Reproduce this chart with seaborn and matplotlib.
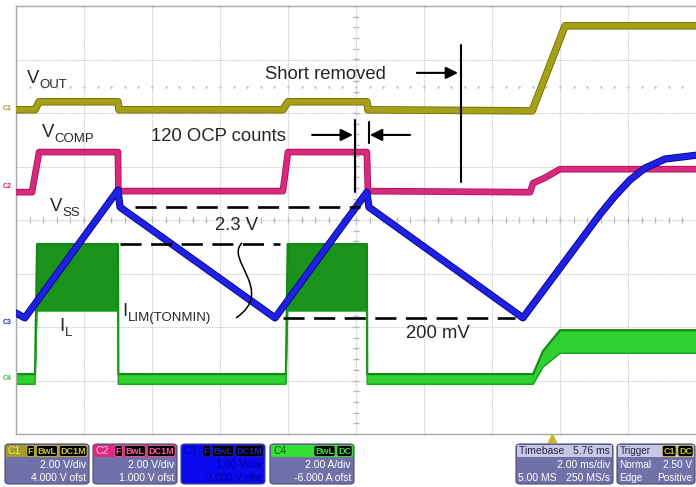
import numpy as np
import matplotlib
matplotlib.use("Agg")
import matplotlib.pyplot as plt
import matplotlib.patheffects as pe
from matplotlib.patches import FancyBboxPatch, Rectangle, PathPatch
from matplotlib.path import Path
import seaborn as sns

# time in ms (2 ms/div, 10 div); vertical in screen divisions (0 = bottom, 8 = top)
vout_t = [0, 0.56, 0.68, 3.0, 3.03, 7.85, 8.0, 10.32, 10.35, 15.18, 16.15, 20]
vout_y = [6.06, 6.06, 6.21, 6.21, 6.06, 6.06, 6.21, 6.21, 6.06, 6.04, 7.63, 7.63]

vcomp_t = [0, 0.47, 0.68, 3.0, 3.01, 7.85, 8.0, 10.32, 10.35, 15.12, 15.21, 15.56, 16.0, 20]
vcomp_y = [4.52, 4.52, 5.27, 5.27, 4.54, 4.54, 5.27, 5.27, 4.54, 4.52, 4.69, 4.79, 4.95, 4.95]

vss_t = [0, 0.26, 3.0, 3.06, 7.62, 10.32, 10.38, 14.91, 17.18, 17.62, 18.06, 18.5, 19.09, 20]
vss_y = [2.26, 2.17, 4.56, 4.24, 2.17, 4.52, 4.24, 2.17, 4.11, 4.45, 4.75, 4.97, 5.14, 5.21]

il_t = [0, 0.56, 0.62, 3.0, 3.01, 7.94, 7.99, 10.32, 10.33, 15.21, 15.5, 16.0, 20]
il_hi = [1.12, 1.12, 3.55, 3.55, 1.12, 1.12, 3.55, 3.55, 1.12, 1.12, 1.55, 1.94, 1.94]
il_lo = [0.93, 0.93, 2.30, 2.30, 0.93, 0.93, 2.30, 2.30, 0.93, 0.93, 1.25, 1.51, 1.51]

# reference levels (div) and their extents (ms)
ref_levels = [4.24, 3.55, 2.17]
ref_start = [3.5, 3.06, 7.85]
ref_end = [10.12, 7.76, 14.68]

trigger_ms = 15.76

sns.set_style("white")
plt.rcParams['font.family'] = ['Liberation Sans', 'DejaVu Sans']

W, H = 696, 487
fig = plt.figure(figsize=(W / 100, H / 100), dpi=100)
ax = fig.add_axes([16 / W, (H - 434) / H, 680 / W, 428 / H])
ax.set_xlim(0, 20)
ax.set_ylim(0, 8)

# scope graticule
for gx in np.arange(2, 20, 2):
    ax.axvline(gx, color='#c4c4c4', lw=0.8, ls=(0, (1, 1)), zorder=0)
for gy in np.arange(1, 8, 1):
    ax.axhline(gy, color='#c4c4c4', lw=0.8, ls=(0, (1, 1)), zorder=0)
ax.plot(np.arange(0.4, 20, 0.4), [4] * 49, ls='none', marker='|', ms=4, color='#b8b8b8', zorder=0)
ax.plot([10] * 39, np.arange(0.2, 8, 0.2), ls='none', marker='_', ms=4, color='#b8b8b8', zorder=0)
ax.plot(np.arange(0.4, 20, 0.4), [6.49] * 49, ls='none', marker='.', ms=1.5, color='#c0c0c0', zorder=0)
ax.set_xticks([])
ax.set_yticks([])
for side in ['left', 'top', 'bottom']:
    ax.spines[side].set_color('#a8a8a8')
    ax.spines[side].set_linewidth(1)
ax.spines['right'].set_visible(False)

# IL (C4)
ax.fill_between(il_t, il_lo, il_hi, color='#30d030', lw=0, zorder=2)
on = [h > 3 for h in il_hi]
ax.fill_between(il_t, il_lo, il_hi, where=on, color='#1a921c', lw=0, zorder=2)
sns.lineplot(x=il_t, y=il_hi, sort=False, estimator=None, color='#138a13', lw=1.6, ax=ax, zorder=2)
sns.lineplot(x=il_t, y=il_lo, sort=False, estimator=None, color='#1aa01a', lw=1.0, ax=ax, zorder=2)

# VOUT (C1)
sns.lineplot(x=vout_t, y=vout_y, sort=False, estimator=None, color='#a4a018', lw=4.2, ax=ax, zorder=3,
             path_effects=[pe.Stroke(linewidth=5.4, foreground='#6e6a00'), pe.Normal()])
# VCOMP (C2)
sns.lineplot(x=vcomp_t, y=vcomp_y, sort=False, estimator=None, color='#d82a7c', lw=3.6, ax=ax, zorder=3,
             path_effects=[pe.Stroke(linewidth=4.8, foreground='#a8105a'), pe.Normal()])
# VSS (C3)
sns.lineplot(x=vss_t, y=vss_y, sort=False, estimator=None, color='#2020e0', lw=4.0, ax=ax, zorder=4,
             path_effects=[pe.Stroke(linewidth=5.2, foreground='#00009a'), pe.Normal()])

# annotations
for lvl, a, b in zip(ref_levels, ref_start, ref_end):
    ax.plot([a, b], [lvl, lvl], color='black', lw=1.9, ls=(0, (8, 3.6)), zorder=5)

ax.plot([9.97, 9.97], [4.52, 5.87], color='black', lw=1.5, zorder=5)
ax.plot([10.38, 10.38], [5.44, 5.83], color='black', lw=1.5, zorder=5)
ax.plot([13.09, 13.09], [4.71, 7.27], color='black', lw=1.5, zorder=5)

arrow = dict(arrowstyle='-|>', color='black', lw=1.5, mutation_scale=18, shrinkA=0, shrinkB=0)
ax.annotate('', xy=(13.0, 6.75), xytext=(11.79, 6.75), arrowprops=arrow, zorder=5)
ax.annotate('', xy=(9.91, 5.59), xytext=(8.71, 5.59), arrowprops=arrow, zorder=5)
ax.annotate('', xy=(10.41, 5.59), xytext=(11.59, 5.59), arrowprops=arrow, zorder=5)

# S-shaped leader for I_LIM(TONMIN)
verts = [(6.65, 3.57), (6.12, 3.27), (7.65, 2.67), (6.47, 2.17)]
ax.add_patch(PathPatch(Path(verts, [Path.MOVETO, Path.CURVE4, Path.CURVE4, Path.CURVE4]),
                       fc='none', ec='black', lw=1.1, zorder=5))

FS, SFS = 13.3, 9.5


def sub_label(x, y, main, sub):
    t = ax.text(x, y, main, fontsize=FS, ha='left', va='baseline', zorder=6)
    ax.annotate(sub, xy=(1, 0), xycoords=t, xytext=(0.3, -0.8), textcoords='offset points',
                fontsize=SFS, ha='left', va='baseline', zorder=6)


sub_label(0.32, 6.56, 'V', 'OUT')
sub_label(0.76, 5.55, 'V', 'COMP')
sub_label(1.0, 4.17, 'V', 'SS')
sub_label(1.26, 1.93, 'I', 'L')
sub_label(3.12, 2.21, 'I', 'LIM(TONMIN)')
ax.text(6.5, 3.81, '2.3 V', fontsize=FS, ha='center', va='baseline', zorder=6)
ax.text(12.41, 1.79, '200 mV', fontsize=FS, ha='center', va='baseline', zorder=6)
ax.text(3.97, 5.48, '120 OCP counts', fontsize=FS, ha='left', va='baseline', zorder=6)
ax.text(7.32, 6.64, 'Short removed', fontsize=FS, ha='left', va='baseline', zorder=6)

# trigger position marker
ax.plot([trigger_ms], [-0.07], marker='^', ms=6, color='#c8b820', clip_on=False, zorder=6)


# channel markers in the left margin
def fx(px):
    return px / W


def fy(py):
    return 1 - py / H


for lab, py, col in [('C1', 108, '#a09a10'), ('C2', 187, '#d0207a'), ('C3', 323, '#2020d0'), ('C4', 378, '#30c030')]:
    fig.text(fx(3), fy(py), lab, fontsize=5, color=col, ha='left', va='center', fontweight='bold')

# info boxes
renderer = fig.canvas.get_renderer()
BODY = '#7171a9'


def info_box(x0, x1, head, head_fc, head_tc, tags, tag_tc, rows, body=BODY, row_tc='white', fs=7.5):
    y0, y1 = 444, 484
    fig.patches.append(FancyBboxPatch((fx(x0), fy(y1)), fx(x1 - x0), (y1 - y0) / H,
                                      boxstyle='round,pad=0,rounding_size=0.006', fc=body, ec='#4a4a7a',
                                      lw=0.8, transform=fig.transFigure, figure=fig))
    fig.patches.append(Rectangle((fx(x0 + 1), fy(457)), fx(x1 - x0 - 2), 12.5 / H, fc=head_fc, lw=0,
                                 transform=fig.transFigure, figure=fig))
    fig.text(fx(x0 + 3), fy(451), head, fontsize=fs, color=head_tc, ha='left', va='center')
    right = x1 - 3
    for tg in reversed(tags):
        t = fig.text(fx(right), fy(451), tg, fontsize=6.5, color=tag_tc, ha='right', va='center',
                     fontweight='bold',
                     bbox=dict(boxstyle='round,pad=0.12,rounding_size=0.25', fc='black', ec=tag_tc, lw=0.6))
        w = t.get_window_extent(renderer=renderer).width
        right -= w + 4
    for (lt, rt), py in zip(rows, [465, 478]):
        if lt:
            fig.text(fx(x0 + 2), fy(py), lt, fontsize=fs, color=row_tc, ha='left', va='center')
        if rt:
            fig.text(fx(x1 - 3), fy(py), rt, fontsize=fs, color=row_tc, ha='right', va='center')


info_box(5, 89, 'C1', '#a49c28', '#f2ea70', ['F', 'BwL', 'DC1M'], '#c8c040',
         [('', '2.00 V/div'), ('', '4.000 V ofst')])
info_box(93, 177, 'C2', '#e0287e', '#ffc0da', ['F', 'BwL', 'DC1M'], '#ff5aa0',
         [('', '2.00 V/div'), ('', '1.000 V ofst')])
info_box(181, 265, 'C3', '#0a0aee', '#00008a', ['F', 'BwL', 'DC1M'], '#2020b0',
         [('', '1.00 V/div'), ('', '-2.000 V ofst')], body='#0a0aee', row_tc='#00008a')
info_box(270, 354, 'C4', '#33e033', '#006000', ['BwL', 'DC'], '#40e040',
         [('', '2.00 A/div'), ('', '-6.000 A ofst')])
info_box(516, 613, 'Timebase   5.76 ms', '#c8c8e6', '#252545', [], '#000000',
         [('', '2.00 ms/div'), ('5.00 MS', '250 MS/s')])
info_box(617, 695, 'Trigger', '#c8c8e6', '#252545', ['C1', 'DC'], '#c8c040',
         [('Normal', '2.50 V'), ('Edge', 'Positive')], fs=7.2)

fig.savefig('out.png', dpi=100)
